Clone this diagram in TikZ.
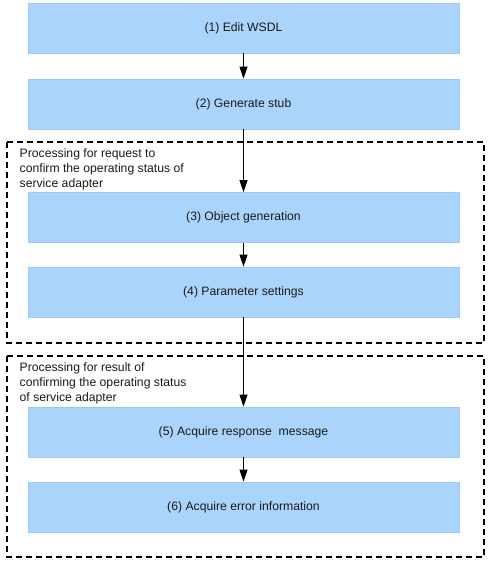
\documentclass[tikz,border=0pt]{standalone}
\usepackage{fontspec}
\setmainfont{Liberation Sans}
\usetikzlibrary{arrows.meta}
\definecolor{boxfill}{HTML}{AAD4FB}
\definecolor{boxline}{HTML}{9CC9F2}
\definecolor{txt}{HTML}{1A1A1A}
\begin{document}
\begin{tikzpicture}[x=1pt,y=-1pt,
  stepbox/.style={draw=boxline,fill=boxfill,line width=0.8pt,minimum width=431pt,minimum height=50pt,inner sep=0pt,text=txt,font=\fontsize{12.2}{15}\selectfont},
  grpbox/.style={draw=black,line width=2.2pt,dash pattern=on 6pt off 4pt},
  lbl/.style={anchor=north west,align=left,inner sep=0pt,text=txt,font=\fontsize{12.2}{15.2}\selectfont},
  flow/.style={-{Triangle[length=12pt,width=8pt]},line width=1pt,black}]
\useasboundingbox (0,0) rectangle (487,561);
\draw[grpbox] (7,142) rectangle (484,343);
\draw[grpbox] (7,356) rectangle (484,557);
\node[lbl] (g1) at (19.5,148) {Processing for request to\\confirm the operating status of\\service adapter};
\node[lbl] (g2) at (19.5,362.5) {Processing for result of\\confirming the operating status\\of service adapter};
\node[stepbox] (b1) at (243.5,28) {(1) Edit WSDL};
\node[stepbox] (b2) at (243.5,104) {(2) Generate stub};
\node[stepbox] (b3) at (243.5,217.5) {(3) Object generation};
\node[stepbox] (b4) at (243.5,292) {(4) Parameter settings};
\node[stepbox] (b5) at (243.5,432) {(5) Acquire response\ \ message};
\node[stepbox] (b6) at (243.5,507) {(6) Acquire error information};
\draw[flow] (b1) -- (b2);
\draw[flow] (b2) -- (b3);
\draw[flow] (b3) -- (b4);
\draw[flow] (b4) -- (b5);
\draw[flow] (b5) -- (b6);
\end{tikzpicture}
\end{document}
